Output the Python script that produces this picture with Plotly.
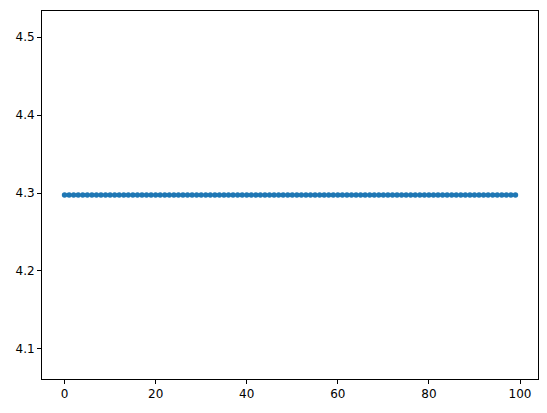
import plotly.graph_objects as go

x_vals = list(range(100))
y_vals = [
    4.2975, 4.2975, 4.2975, 4.2975, 4.2975, 4.2975, 4.2975, 4.2975, 4.2975, 4.2975,
    4.2975, 4.2975, 4.2975, 4.2975, 4.2975, 4.2975, 4.2975, 4.2975, 4.2975, 4.2975,
    4.2975, 4.2975, 4.2975, 4.2975, 4.2975, 4.2975, 4.2975, 4.2975, 4.2975, 4.2975,
    4.2975, 4.2975, 4.2975, 4.2975, 4.2975, 4.2975, 4.2975, 4.2975, 4.2975, 4.2975,
    4.2975, 4.2975, 4.2975, 4.2975, 4.2975, 4.2975, 4.2975, 4.2975, 4.2975, 4.2975,
    4.2975, 4.2975, 4.2975, 4.2975, 4.2975, 4.2975, 4.2975, 4.2975, 4.2975, 4.2975,
    4.2975, 4.2975, 4.2975, 4.2975, 4.2975, 4.2975, 4.2975, 4.2975, 4.2975, 4.2975,
    4.2975, 4.2975, 4.2975, 4.2975, 4.2975, 4.2975, 4.2975, 4.2975, 4.2975, 4.2975,
    4.2975, 4.2975, 4.2975, 4.2975, 4.2975, 4.2975, 4.2975, 4.2975, 4.2975, 4.2975,
    4.2975, 4.2975, 4.2975, 4.2975, 4.2975, 4.2975, 4.2975, 4.2975, 4.2975, 4.2975,
]
x_ticks = [0, 20, 40, 60, 80, 100]
y_ticks = [4.1, 4.2, 4.3, 4.4, 4.5]
y_tick_labels = ["4.1", "4.2", "4.3", "4.4", "4.5"]

fig = go.Figure()
fig.add_trace(go.Scatter(
    x=x_vals, y=y_vals, mode="lines+markers",
    line=dict(color="#1f77b4", width=1.3),
    marker=dict(color="#1f77b4", size=5.5, line=dict(width=0)),
    showlegend=False,
))

axis_common = dict(
    showline=True, mirror=True, linecolor="black", linewidth=1,
    ticks="outside", ticklen=4, tickwidth=1, tickcolor="black",
    showgrid=False, zeroline=False,
    tickfont=dict(family="DejaVu Sans", size=12, color="black"),
)
fig.update_xaxes(range=[-4.95, 103.95], tickvals=x_ticks, **axis_common)
fig.update_yaxes(range=[4.0613, 4.5337], tickvals=y_ticks, ticktext=y_tick_labels, **axis_common)

# page body has an 8px default margin, so the figure is sized to fit the window
fig.update_layout(
    width=539, height=405,
    margin=dict(l=34, r=9, t=3, b=34),
    plot_bgcolor="white", paper_bgcolor="white",
)
fig.write_html("out.html")
